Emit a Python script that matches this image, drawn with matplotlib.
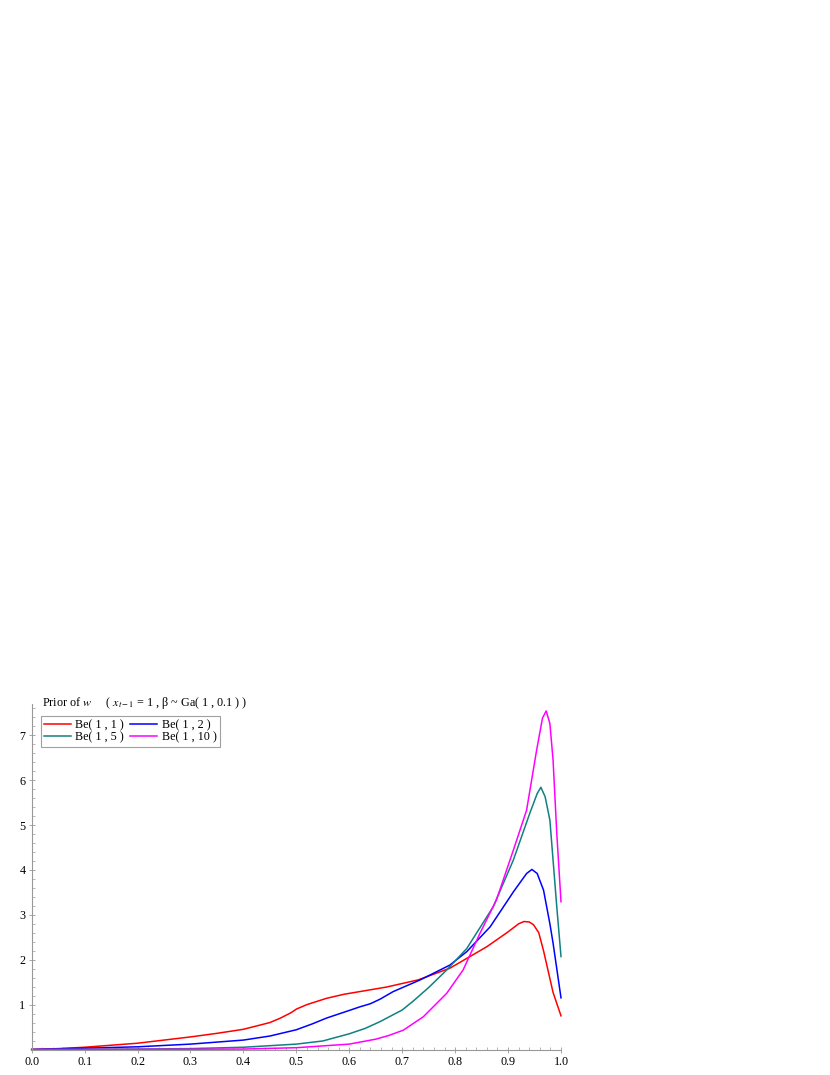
import matplotlib
matplotlib.use("Agg")
import matplotlib.pyplot as plt
from matplotlib.ticker import MultipleLocator, FixedLocator

plt.rcParams['font.family'] = ['Liberation Serif', 'DejaVu Serif']
plt.rcParams['mathtext.fontset'] = 'stix'

# ---- data ----
labels = ["Be( 1 , 1 )", "Be( 1 , 2 )", "Be( 1 , 5 )", "Be( 1 , 10 )"]
colors = ["#ff0000", "#0000ff", "#128080", "#ff00ff"]

x_red = [0, 0.05, 0.1, 0.2, 0.3, 0.35, 0.4, 0.43, 0.45, 0.47, 0.49, 0.5, 0.52, 0.557, 0.59,
         0.62, 0.67, 0.73, 0.79, 0.86, 0.9, 0.92, 0.93, 0.94, 0.948, 0.958, 0.967, 0.979,
         0.985, 1.0]
y_red = [0, 0.02, 0.05, 0.14, 0.28, 0.36, 0.45, 0.54, 0.6, 0.7, 0.82, 0.9, 1.0, 1.14, 1.23,
         1.29, 1.39, 1.55, 1.81, 2.29, 2.62, 2.8, 2.85, 2.84, 2.78, 2.6, 2.2, 1.58,
         1.27, 0.75]

x_blue = [0, 0.1, 0.2, 0.3, 0.4, 0.45, 0.5, 0.53, 0.557, 0.6, 0.62, 0.64, 0.658, 0.683,
          0.734, 0.79, 0.822, 0.866, 0.91, 0.935, 0.945, 0.955, 0.967, 0.979, 0.985, 1.0]
y_blue = [0, 0.03, 0.06, 0.12, 0.21, 0.3, 0.44, 0.57, 0.7, 0.87, 0.95, 1.02, 1.12, 1.29,
          1.55, 1.88, 2.18, 2.73, 3.51, 3.92, 4.01, 3.92, 3.55, 2.8, 2.37, 1.15]

x_teal = [0, 0.1, 0.2, 0.3, 0.4, 0.5, 0.55, 0.6, 0.63, 0.658, 0.7, 0.721, 0.75, 0.784,
          0.822, 0.872, 0.91, 0.941, 0.955, 0.962, 0.97, 0.979, 0.985, 0.992, 1.0]
y_teal = [0, 0.005, 0.01, 0.02, 0.05, 0.12, 0.19, 0.35, 0.47, 0.62, 0.88, 1.08, 1.38, 1.77,
          2.25, 3.18, 4.22, 5.26, 5.7, 5.84, 5.63, 5.11, 4.22, 3.18, 2.07]

x_mag = [0, 0.2, 0.4, 0.5, 0.6, 0.65, 0.674, 0.702, 0.74, 0.784, 0.815, 0.847, 0.878,
         0.91, 0.935, 0.954, 0.965, 0.972, 0.979, 0.985, 0.992, 1.0]
y_mag = [0, 0.003, 0.01, 0.04, 0.12, 0.23, 0.31, 0.43, 0.73, 1.25, 1.77, 2.59, 3.33,
         4.44, 5.33, 6.67, 7.38, 7.54, 7.26, 6.45, 4.82, 3.29]

x_ticks = [0.0, 0.1, 0.2, 0.3, 0.4, 0.5, 0.6, 0.7, 0.8, 0.9, 1.0]
y_ticks = [1, 2, 3, 4, 5, 6, 7]

series = [(x_red, y_red), (x_blue, y_blue), (x_teal, y_teal), (x_mag, y_mag)]

# ---- figure ----
W, H = 830, 1075
fig = plt.figure(figsize=(W / 100, H / 100), dpi=100)
left = 31.7 / W
bottom = (H - 1049.5) / H
ytop = 7.7
top_px = 1049.5 - ytop * 44.9
ax = fig.add_axes([left, bottom, (561 - 31.7) / W, (1049.5 - top_px) / H])

handles = []
for (xs, ys), c, lab in zip(series, colors, labels):
    h, = ax.plot(xs, ys, color=c, lw=1.1, label=lab, clip_on=False)
    handles.append(h)

ax.set_xlim(0, 1)
ax.set_ylim(0, ytop)
for s in ['top', 'right']:
    ax.spines[s].set_visible(False)
for s in ['left', 'bottom']:
    ax.spines[s].set_color('#999999')
    ax.spines[s].set_linewidth(0.8)

ax.xaxis.set_major_locator(FixedLocator(x_ticks))
ax.set_xticklabels([f"{v:.1f}" for v in x_ticks])
ax.yaxis.set_major_locator(FixedLocator(y_ticks))
ax.set_yticklabels([str(v) for v in y_ticks])
ax.xaxis.set_minor_locator(MultipleLocator(0.02))
ax.yaxis.set_minor_locator(MultipleLocator(0.2))
ax.tick_params(which='major', direction='inout', length=5, width=0.6, color='#999999',
               labelsize=8.7, pad=2)
ax.tick_params(which='minor', direction='in', length=2.5, width=0.5, color='#999999')

# row-wise order: (1,1) (1,2) / (1,5) (1,10)
order = [0, 2, 1, 3]
leg = ax.legend([handles[i] for i in order], [labels[i] for i in order],
                loc='upper left', bbox_to_anchor=(41 / W, 1 - 716 / H),
                bbox_transform=fig.transFigure, ncol=2, fontsize=8.7,
                frameon=True, fancybox=False, borderaxespad=0, borderpad=0.25,
                handlelength=2.2, handletextpad=0.4, columnspacing=0.5,
                labelspacing=0.05)
leg.get_frame().set_edgecolor('#888888')
leg.get_frame().set_linewidth(0.8)

fig.text(42 / W, 1 - 703 / H,
         r"Prior of $w$     ( $x_{t-1}$ = 1 , β ~ Ga( 1 , 0.1 ) )",
         fontsize=8.7, ha='left', va='center')

fig.savefig("out.png", dpi=100)
